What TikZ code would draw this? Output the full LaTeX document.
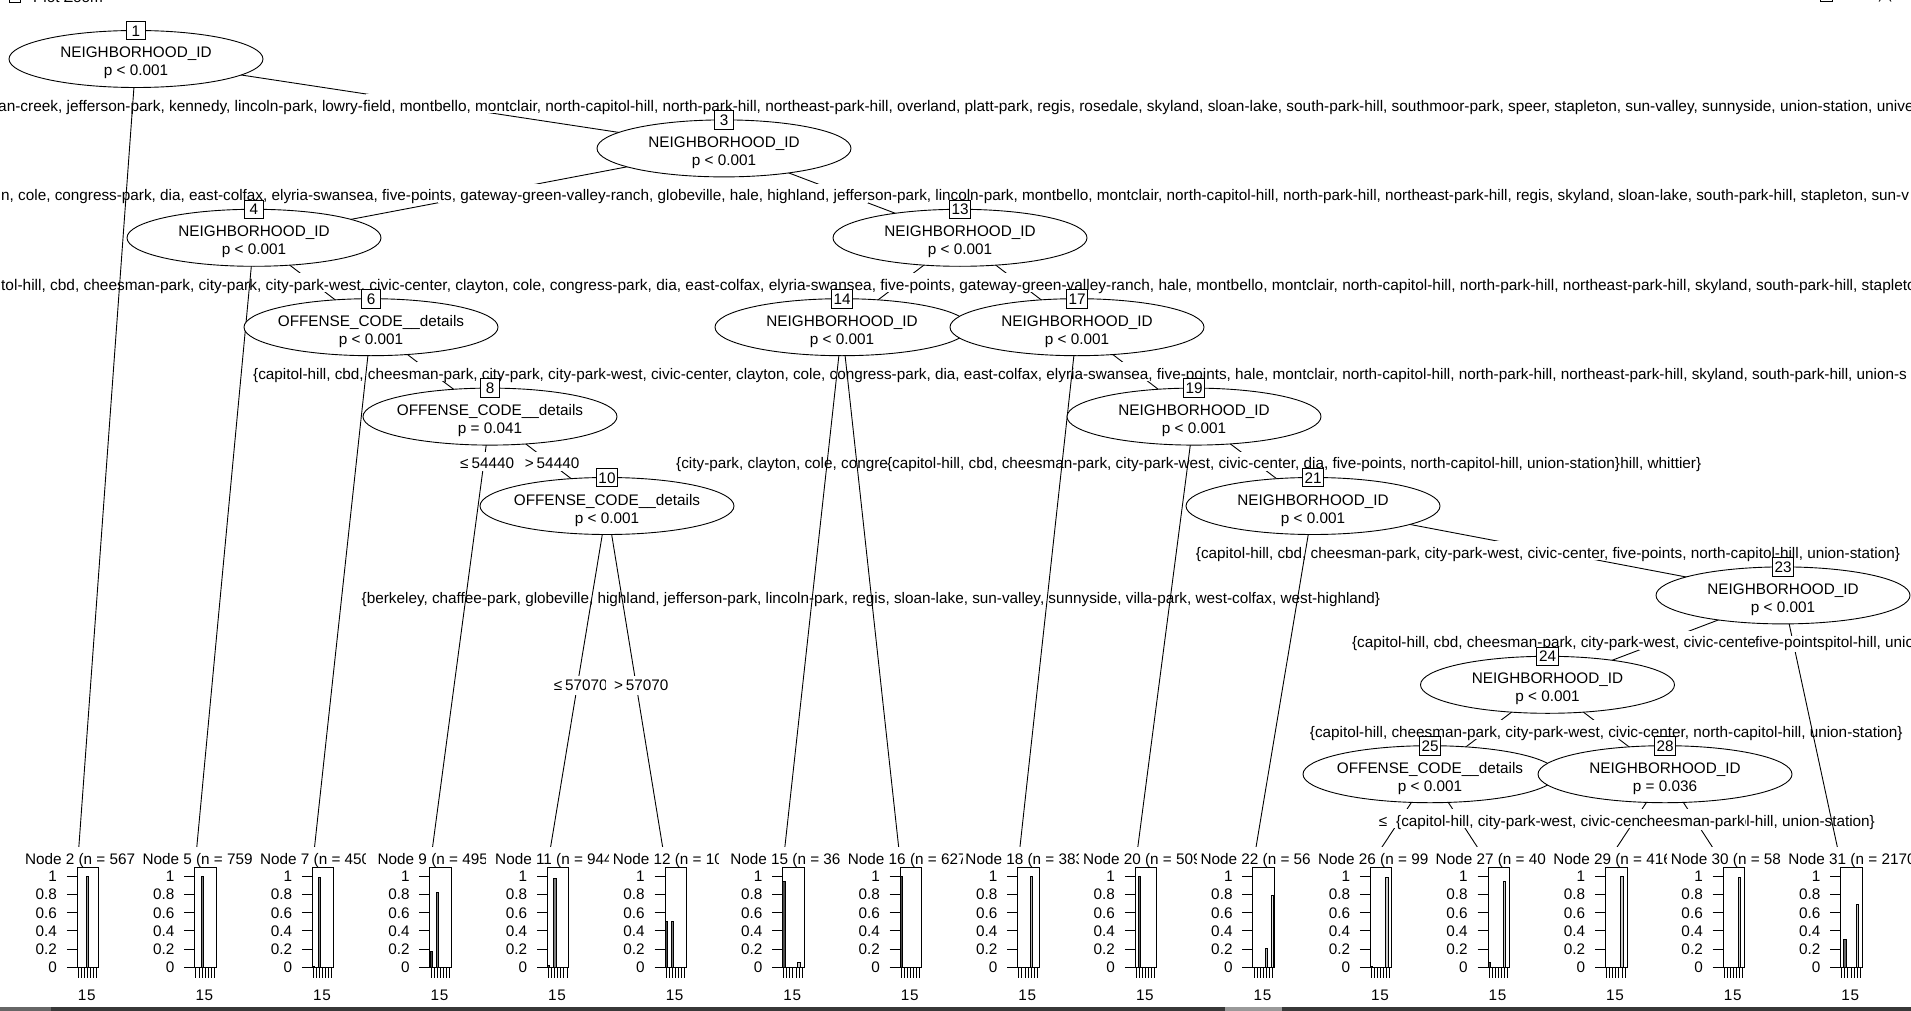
\documentclass[tikz,border=0pt]{standalone}
\usepackage{fontspec}
\setmainfont{Liberation Sans}
\usetikzlibrary{shapes.geometric}

\newcommand\innernode[5]{%
  \node[ell] (n#1) at (#2,#3) {};
  \node[etxt] (n#1v) at (#2,#3-1) {#4};
  \node[etxt] (n#1p) at (#2,#3+17) {#5};
  \node[numbox] (n#1b) at (#2,#3-28.5) {#1};
}

\newcommand\leafpanel[5]{%
  \begin{scope}
    \clip ({#1-58},842) rectangle ({#1+#5},873);
    \node[lab] (t#2) at ({#1-52},864.3) {#3};
  \end{scope}
  \node[pbox] (b#2) at (#1,866.7) {};
  \foreach \k/\v in {#4} {
    \pgfmathtruncatemacro\shade{80-10*\k}
    \draw[fill=black!\shade, line width=0.6pt] ({#1+(\k-0.5)*3.057-1.2},967.3) rectangle ({#1+(\k-0.5)*3.057+1.2},{967.3-91.3*\v});
  }
  \foreach \k in {1,...,7} \draw[line width=0.8pt] ({#1+(\k-0.5)*3.057},967.3) -- ({#1+(\k-0.5)*3.057},978.3);
  \foreach \v [count=\i] in {0,0.2,0.4,0.6,0.8,1} {
    \draw[line width=0.8pt] ({#1-10},{967.3-91.3*\v}) -- (#1,{967.3-91.3*\v});
    \node[anchor=base east, inner sep=0pt] (y#2n\i) at ({#1-19.7},{967.3-91.3*\v+5.6}) {\v};
  }
  \node[anchor=base, inner sep=0pt] (xa#2) at ({#1+5.4},1000) {1};
  \node[anchor=base, inner sep=0pt] (xb#2) at ({#1+14.6},1000) {5};
}

\begin{document}
\begin{tikzpicture}[x=1pt,y=-1pt,font=\fontsize{15.3}{18}\selectfont,
  conn/.style={line width=0.9pt},
  lab/.style={anchor=base west, inner sep=0pt},
  clab/.style={anchor=base, inner sep=0pt},
  over/.style={anchor=base, inner xsep=0pt, inner ysep=0pt, fill=white, text height=12pt, text depth=4pt},
  ell/.style={ellipse, draw, fill=white, minimum width=254, minimum height=57, inner sep=0pt, line width=0.9pt},
  etxt/.style={anchor=base, inner sep=0pt},
  numbox/.style={draw, fill=white, minimum width=18.5, minimum height=18.6, inner xsep=2.2pt, inner ysep=0pt, text height=11.2pt, text depth=0pt, line width=0.9pt},
  pbox/.style={draw, fill=white, anchor=north west, minimum width=21.4, minimum height=100.6, inner sep=0pt, line width=0.9pt},
  gap/.style={fill=white, draw=none}]
\useasboundingbox (0,0) rectangle (1911,1011);
\clip (0,0) rectangle (1911,1011);
\fill[white] (0,0) rectangle (1911,1011);

% inner node centres
\coordinate (c1) at (136,59);
\coordinate (c3) at (724,148.4);
\coordinate (c4) at (254,237.8);
\coordinate (c13) at (960,237.8);
\coordinate (c6) at (371,327.2);
\coordinate (c14) at (842,327.2);
\coordinate (c17) at (1077,327.2);
\coordinate (c8) at (490,416.6);
\coordinate (c19) at (1194,416.6);
\coordinate (c10) at (607,506);
\coordinate (c21) at (1313,506);
\coordinate (c23) at (1783,595.4);
\coordinate (c24) at (1547.5,684.8);
\coordinate (c25) at (1430,774.2);
\coordinate (c28) at (1665,774.2);
% leaf tops
\coordinate (l2) at (77.6,864);
\coordinate (l5) at (195.2,864);
\coordinate (l7) at (312.7,864);
\coordinate (l9) at (430.3,864);
\coordinate (l11) at (547.8,864);
\coordinate (l12) at (665.4,864);
\coordinate (l15) at (783,864);
\coordinate (l16) at (900.5,864);
\coordinate (l18) at (1018.1,864);
\coordinate (l20) at (1135.6,864);
\coordinate (l22) at (1253.2,864);
\coordinate (l26) at (1370.8,864);
\coordinate (l27) at (1488.3,864);
\coordinate (l29) at (1605.9,864);
\coordinate (l30) at (1723.4,864);
\coordinate (l31) at (1841,864);

% edges
\draw[conn] (c1) -- (l2);  \draw[conn] (c1) -- (c3);
\draw[conn] (c3) -- (c4);  \draw[conn] (c3) -- (c13);
\draw[conn] (c4) -- (l5);  \draw[conn] (c4) -- (c6);
\draw[conn] (c6) -- (l7);  \draw[conn] (c6) -- (c8);
\draw[conn] (c8) -- (l9);  \draw[conn] (c8) -- (c10);
\draw[conn] (c10) -- (l11); \draw[conn] (c10) -- (l12);
\draw[conn] (c13) -- (c14); \draw[conn] (c13) -- (c17);
\draw[conn] (c14) -- (l15); \draw[conn] (c14) -- (l16);
\draw[conn] (c17) -- (l18); \draw[conn] (c17) -- (c19);
\draw[conn] (c19) -- (l20); \draw[conn] (c19) -- (c21);
\draw[conn] (c21) -- (l22); \draw[conn] (c21) -- (c23);
\draw[conn] (c23) -- (c24); \draw[conn] (c23) -- (l31);
\draw[conn] (c24) -- (c25); \draw[conn] (c24) -- (c28);
\draw[conn] (c25) -- (l26); \draw[conn] (c25) -- (l27);
\draw[conn] (c28) -- (l29); \draw[conn] (c28) -- (l30);

% label backgrounds hiding the edges
\fill[gap] (366,94.2) rectangle (494,113.2);
\fill[gap] (438,183.6) rectangle (540,202.6);
\fill[gap] (816,183.6) rectangle (868,202.6);
\fill[gap] (299,273) rectangle (326,292);
\fill[gap] (887,273) rectangle (915,292);
\fill[gap] (1005,273) rectangle (1032,292);
\fill[gap] (417,362.4) rectangle (444,381.4);
\fill[gap] (1122,362.4) rectangle (1149,381.4);
\fill[gap] (481,451.8) rectangle (487,470.8);
\fill[gap] (535,451.8) rectangle (562,470.8);
\fill[gap] (1240,451.8) rectangle (1267,470.8);
\fill[gap] (1495,541.2) rectangle (1598,560.2);
\fill[gap] (1639,630.6) rectangle (1691,649.6);
\fill[gap] (574,675.5) rectangle (581,694.5);
\fill[gap] (633,675.5) rectangle (640,694.5);
\fill[gap] (1475,720) rectangle (1502,739);
\fill[gap] (1593,720) rectangle (1620,739);
\fill[gap] (1393,809.4) rectangle (1409,828.4);
\fill[gap] (1451,809.4) rectangle (1467,828.4);
\fill[gap] (1628,809.4) rectangle (1644,828.4);
\fill[gap] (1686,809.4) rectangle (1702,828.4);

% edge labels
\node[lab, font=\fontsize{15.4}{18}\selectfont] (r1) at (-2,111.2) {an-creek, jefferson-park, kennedy, lincoln-park, lowry-field, montbello, montclair, north-capitol-hill, north-park-hill, northeast-park-hill, overland, platt-park, regis, rosedale, skyland, sloan-lake, south-park-hill, southmoor-park, speer, stapleton, sun-valley, sunnyside, union-station, univers};
\node[lab] (r2) at (1,200.6) {n, cole, congress-park, dia, east-colfax, elyria-swansea, five-points, gateway-green-valley-ranch, globeville, hale, highland, jefferson-park, lincoln-park, montbello, montclair, north-capitol-hill, north-park-hill, northeast-park-hill, regis, skyland, sloan-lake, south-park-hill, stapleton, sun-v};
\node[lab, font=\fontsize{15.45}{18}\selectfont] (r3) at (1,290) {tol-hill, cbd, cheesman-park, city-park, city-park-west, civic-center, clayton, cole, congress-park, dia, east-colfax, elyria-swansea, five-points, gateway-green-valley-ranch, hale, montbello, montclair, north-capitol-hill, north-park-hill, northeast-park-hill, skyland, south-park-hill, stapleton};
\node[lab] (r4) at (253,379.4) {\{capitol-hill, cbd, cheesman-park, city-park, city-park-west, civic-center, clayton, cole, congress-park, dia, east-colfax, elyria-swansea, five-points, hale, montclair, north-capitol-hill, north-park-hill, northeast-park-hill, skyland, south-park-hill, union-s};
\begin{scope}
  \clip (455,450) rectangle (515,476);
  \node[lab] (r5a) at (460,468.8) {≤\kern3pt 54440};
\end{scope}
\node[lab] (r5b) at (524.6,468.8) {>\kern3pt 54440};
\node[clab] (r5d) at (1253.5,468.8) {\{capitol-hill, cbd, cheesman-park, city-park-west, civic-center, dia, five-points, north-capitol-hill, union-station\}};
\begin{scope}
  \clip (600,450) rectangle (r5d.west |- 0,476);
  \node[lab] (r5c) at (676,468.8) {\{city-park, clayton, cole, congress};
\end{scope}
\node[lab] (r5e) at (r5d.base east) {hill, whittier\}};
\node[clab] (r6) at (1548,558.2) {\{capitol-hill, cbd, cheesman-park, city-park-west, civic-center, five-points, north-capitol-hill, union-station\}};
\node[clab] (r595) at (871,603.1) {\{berkeley, chaffee-park, globeville, highland, jefferson-park, lincoln-park, regis, sloan-lake, sun-valley, sunnyside, villa-park, west-colfax, west-highland\}};
\node[clab] (r7) at (1665,647.6) {\{capitol-hill, cbd, cheesman-park, city-park-west, civic-center, north-capitol-hill, union-station\}};
\node[over] (r7o) at (1790,647.6) {five-points};
\begin{scope}
  \clip (550,672) rectangle (605,698);
  \node[lab] (r10a) at (553.6,690.7) {≤\kern3pt 57070};
\end{scope}
\node[lab] (r10b) at (613.8,690.7) {>\kern3pt 57070};
\node[clab] (r8) at (1606.25,737) {\{capitol-hill, cheesman-park, city-park-west, civic-center, north-capitol-hill, union-station\}};
\node[lab] (r9a) at (1378.6,826.4) {≤};
\node[clab] (r9) at (1635.5,826.4) {\{capitol-hill, city-park-west, civic-center, north-capitol-hill, union-station\}};
\node[over] (r9o) at (1692,826.4) {cheesman-park};

% inner nodes
\innernode{1}{136}{59}{NEIGHBORHOOD\_ID}{p < 0.001}
\innernode{3}{724}{148.4}{NEIGHBORHOOD\_ID}{p < 0.001}
\innernode{4}{254}{237.8}{NEIGHBORHOOD\_ID}{p < 0.001}
\innernode{13}{960}{237.8}{NEIGHBORHOOD\_ID}{p < 0.001}
\innernode{6}{371}{327.2}{OFFENSE\_CODE\_\_details}{p < 0.001}
\innernode{14}{842}{327.2}{NEIGHBORHOOD\_ID}{p < 0.001}
\innernode{17}{1077}{327.2}{NEIGHBORHOOD\_ID}{p < 0.001}
\innernode{8}{490}{416.6}{OFFENSE\_CODE\_\_details}{p = 0.041}
\innernode{19}{1194}{416.6}{NEIGHBORHOOD\_ID}{p < 0.001}
\innernode{10}{607}{506}{OFFENSE\_CODE\_\_details}{p < 0.001}
\innernode{21}{1313}{506}{NEIGHBORHOOD\_ID}{p < 0.001}
\innernode{23}{1783}{595.4}{NEIGHBORHOOD\_ID}{p < 0.001}
\innernode{24}{1547.5}{684.8}{NEIGHBORHOOD\_ID}{p < 0.001}
\innernode{25}{1430}{774.2}{OFFENSE\_CODE\_\_details}{p < 0.001}
\innernode{28}{1665}{774.2}{NEIGHBORHOOD\_ID}{p = 0.036}

% terminal panels
\fill[white] (0,847) rectangle (1911,866.3);
\leafpanel{76.8}{2}{Node 2 (n = 567}{4/1}{60}
\leafpanel{194.36}{5}{Node 5 (n = 759}{3/1}{60}
\leafpanel{311.92}{7}{Node 7 (n = 450}{1/0.01,3/0.99}{54}
\leafpanel{429.48}{9}{Node 9 (n = 495}{1/0.18,3/0.82}{56}
\leafpanel{547.04}{11}{Node 11 (n = 944}{1/0.02,3/0.98}{61}
\leafpanel{664.6}{12}{Node 12 (n = 100}{1/0.5,3/0.5}{54}
\leafpanel{782.16}{15}{Node 15 (n = 36}{1/0.94,6/0.06}{62}
\leafpanel{899.72}{16}{Node 16 (n = 627}{1/1}{63}
\leafpanel{1017.28}{18}{Node 18 (n = 383}{5/1}{61}
\leafpanel{1134.84}{20}{Node 20 (n = 509}{2/1}{62}
\leafpanel{1252.4}{22}{Node 22 (n = 56}{5/0.21,7/0.79}{62}
\leafpanel{1369.96}{26}{Node 26 (n = 99}{1/0.01,6/0.99}{62}
\leafpanel{1487.52}{27}{Node 27 (n = 40}{1/0.06,6/0.94}{62}
\leafpanel{1605.08}{29}{Node 29 (n = 416}{6/1}{61}
\leafpanel{1722.64}{30}{Node 30 (n = 58}{6/0.99}{62}
\leafpanel{1840.2}{31}{Node 31 (n = 2170}{2/0.31,6/0.69}{75}

% window chrome
\node[lab] (wtitle) at (33,2.7) {Plot Zoom};
\draw[line width=0.8pt] (9,-8) rectangle (20,2.5);
\draw[line width=0.8pt] (1820,-8) rectangle (1832,1.5);
\draw[line width=0.8pt] (1884,-5) -- (1879,1.5);
\draw[line width=0.8pt] (1886,-5) -- (1891,1.5);
\fill[black!78] (0,1006.5) rectangle (1911,1011);
\fill[black!60] (0,1006.5) rectangle (51,1011);
\fill[black!40] (1225,1006.5) rectangle (1282,1011);
\end{tikzpicture}
\end{document}
